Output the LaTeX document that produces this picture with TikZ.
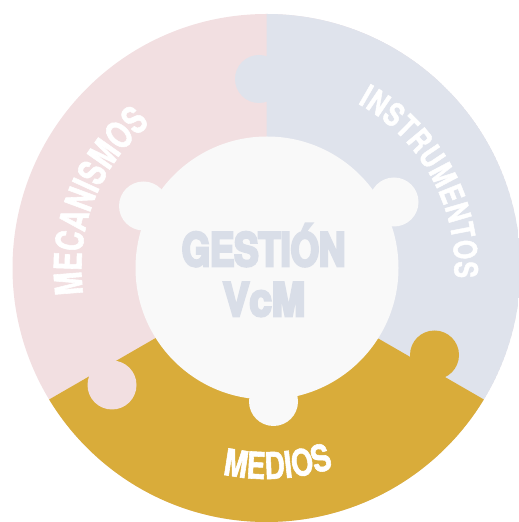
\documentclass[tikz,border=0pt]{standalone}
\usepackage{fontspec}
\usetikzlibrary{calc,decorations.text}
\newfontfamily\edgefontA[FakeStretch=0.73,FakeBold=1.5]{TeX Gyre Heros}
\newfontfamily\edgefontB[FakeStretch=0.78,FakeBold=1.5]{TeX Gyre Heros}
\newfontfamily\edgefontC[FakeStretch=0.76,FakeBold=1.5]{TeX Gyre Heros}
\newfontfamily\gestfont[FakeStretch=0.79,FakeBold=5.5]{TeX Gyre Heros}
\newfontfamily\vcmfont[FakeStretch=0.87,FakeBold=5.5]{TeX Gyre Heros}
\newcommand\labA{\edgefontA\bfseries\fontsize{38pt}{38pt}\selectfont}
\newcommand\labB{\edgefontB\bfseries\fontsize{32pt}{32pt}\selectfont}
\newcommand\labC{\edgefontC\bfseries\fontsize{37pt}{37pt}\selectfont}
\definecolor{pinkc}{HTML}{F2DFE1}
\definecolor{bluec}{HTML}{DFE3EC}
\definecolor{goldc}{HTML}{D9AC3A}
\definecolor{centc}{HTML}{F9F9F9}
\definecolor{gestc}{HTML}{D9DEE8}
\tikzset{
  tab/.style={radius=24.5},
  ringlabel/.style={decorate, decoration={text along path, text align=fit to path, text color=white}},
  ringlabelc/.style={decorate, decoration={text along path, text align=center, text color=white}},
  centertext/.style={text=gestc, inner sep=0pt, anchor=base}
}
\begin{document}
\begin{tikzpicture}[x=1pt,y=1pt]
\useasboundingbox (0,0) rectangle (519,522);
\coordinate (O) at (266.5,254);
\coordinate (P) at (266.5,248);
\coordinate (I) at (267,254);
\begin{scope}
  \clip (O) circle[radius=254];
  \fill[pinkc] (O) circle[radius=254];
  \fill[bluec] (P) -- (266.5,600) -- (900,600) -- (900,-117.7) -- cycle;
  \fill[goldc] (P) -- (900,-117.7) -- (900,-300) -- (-400,-300) -- (-400,-136.8) -- cycle;
  \fill[bluec] (259,443) circle[radius=24];
  \fill[pinkc] (112,137) circle[tab];
  \fill[goldc] (434.5,167) circle[tab];
\end{scope}
\fill[centc] (I) circle[radius=131.5];
\fill[centc] (143.5,316) circle[tab];
\fill[centc] (394,320) circle[tab];
\fill[centc] (273.5,120.5) circle[tab];
\path[ringlabelc, decoration={text={|\labA|MECANISMOS}}]
  ($(O)+(198.5:185)$) arc[start angle=198.5, end angle=118.5, radius=185];
\path[ringlabel, decoration={text={|\labB|INSTRUMENTOS}}]
  ($(O)+(61:188)$) arc[start angle=61, end angle=-3, radius=188];
\path[ringlabel, decoration={text={|\labC|MEDIOS}}]
  ($(O)+(-102:211)$) arc[start angle=-102, end angle=-71.5, radius=211];
\node[centertext, font=\gestfont\bfseries\fontsize{46pt}{46pt}\selectfont] (g1) at (263.5,256) {GESTIÓN};
\node[centertext, font=\vcmfont\bfseries\fontsize{46pt}{46pt}\selectfont] (g2) at (264,206) {VcM};
\end{tikzpicture}
\end{document}
